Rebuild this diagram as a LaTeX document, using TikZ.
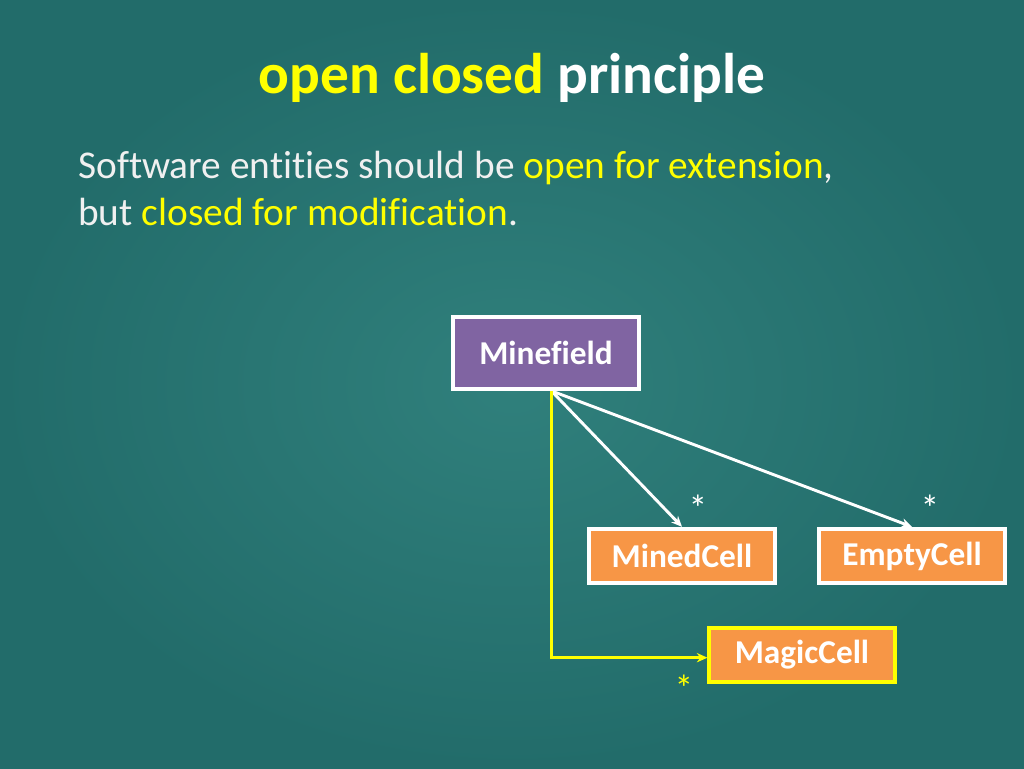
\documentclass[tikz,border=0pt]{standalone}
\usepackage{fontspec}
\setmainfont{Carlito}[Ligatures=NoCommon]
\usetikzlibrary{arrows.meta,positioning}
\definecolor{board}{RGB}{34,108,106}
\definecolor{boardlight}{RGB}{48,128,124}
\definecolor{boxpurple}{RGB}{128,100,162}
\definecolor{boxorange}{RGB}{247,150,70}
\definecolor{hiyellow}{RGB}{255,255,0}

\begin{document}
\begin{tikzpicture}[x=0.75pt,y=-0.75pt,>=Stealth,
  cls/.style={draw=white,line width=2.8pt,text=white,font=\bfseries\fontsize{25}{28}\selectfont,minimum width=139pt,minimum height=41pt,inner sep=0pt},
  cell/.style={cls,fill=boxorange},
  mult/.style={font=\fontsize{28}{30}\selectfont,inner sep=0pt},
  assoc/.style={line width=2.2pt,-{Stealth[length=8pt,width=7pt]}}]
\useasboundingbox (0,0) rectangle (1024,768);
\shade[inner color=boardlight,outer color=board] (0,0) rectangle (1024,768);
% title and statement
\node[anchor=base,font=\bfseries\fontsize{43}{48}\selectfont] (title) at (512,93) {\textcolor{hiyellow}{open closed} \textcolor{white}{principle}};
\node[anchor=base west,inner sep=0pt,text=white!94!black,font=\fontsize{29.5}{34}\selectfont] (line1) at (78,178) {Software entities should be \textcolor{hiyellow}{open for extension},};
\node[anchor=base west,inner sep=0pt,text=white!94!black,font=\fontsize{29.5}{34}\selectfont] (line2) at (78,225) {but \textcolor{hiyellow}{closed for modification}.};
% classes
\node[cls,fill=boxpurple,minimum height=54pt] (mine) at (546,353) {Minefield};
\node[cell] (mined) at (682,556) {MinedCell};
\node[cell] (empty) at (912,556) {EmptyCell};
\node[cell,draw=hiyellow] (magic) at (802,655) {MagicCell};
\coordinate (root) at ([xshift=4pt]mine.south);
\draw[assoc,white] (root) -- (mined.north);
\draw[assoc,white] (root) -- (empty.north);
\draw[assoc,hiyellow] (root) |- ([yshift=-2pt]magic.west);
\node[mult,text=white] (mstar) at (698,508) {*};
\node[mult,text=white] (estar) at (930,508) {*};
\node[mult,text=hiyellow] (gstar) at (684,688) {*};
\end{tikzpicture}
\end{document}
